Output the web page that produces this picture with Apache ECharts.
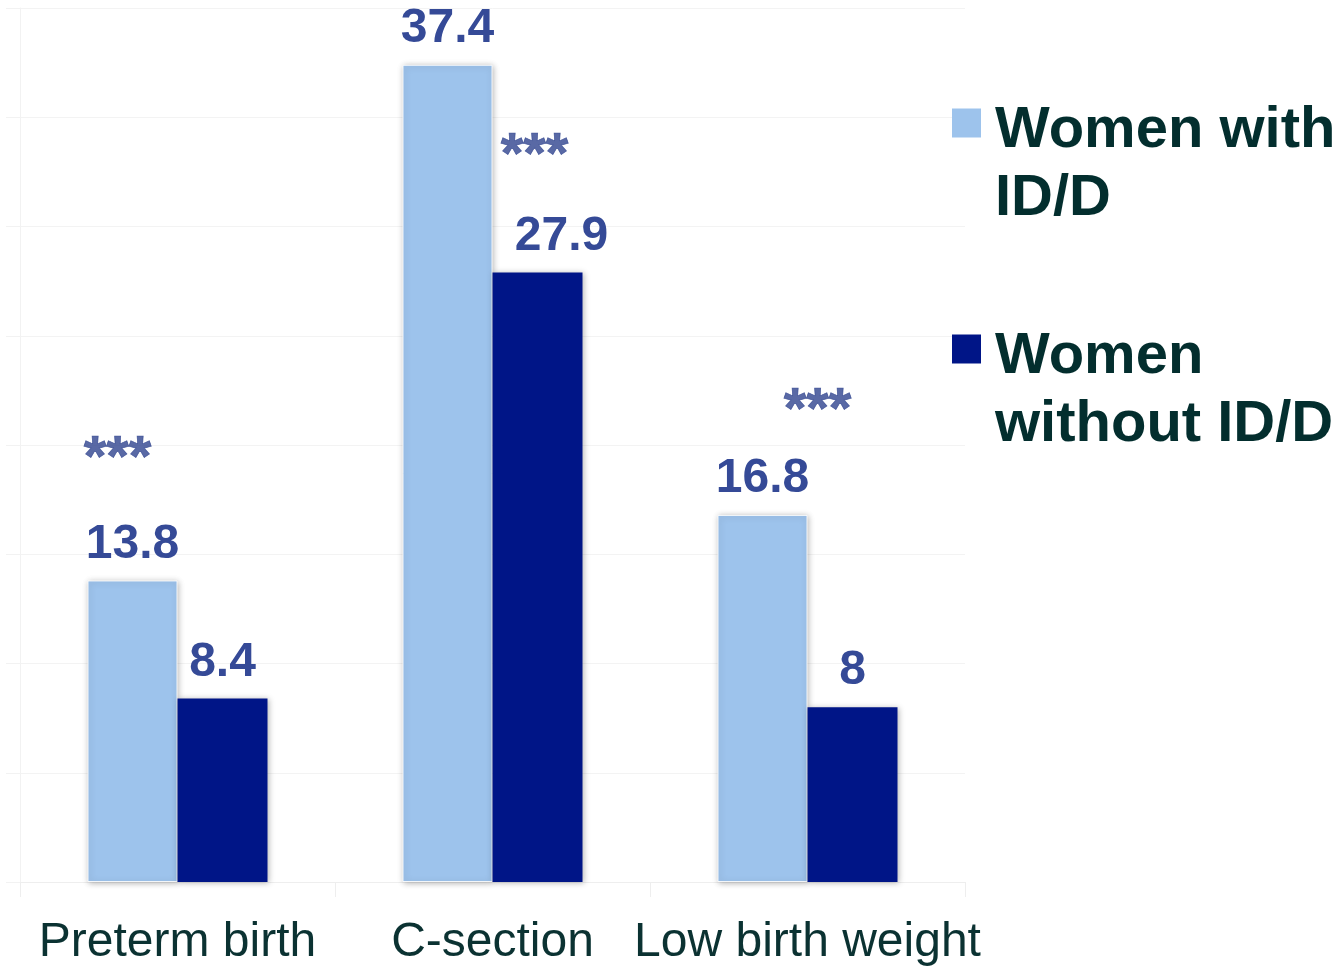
<!DOCTYPE html>
<html>
<head>
<meta charset="utf-8">
<script src="https://cdn.jsdelivr.net/npm/echarts@6/dist/echarts.min.js"></script>
<style>
html,body{margin:0;padding:0;background:#fff;}
#chart{width:1338px;height:969px;}
</style>
</head>
<body>
<div id="chart"></div>
<script>
const categories = ['Preterm birth', 'C-section', 'Low birth weight'];
const seriesNames = ['Women with ID/D', 'Women without ID/D'];
const legendLines = [['Women with', 'ID/D'], ['Women', 'without ID/D']];
const withIDD = [13.8, 37.4, 16.8];
const withoutIDD = [8.4, 27.9, 8];
const sigMarks = ['***', '***', '***'];
const sigLevels = [19.3, 33.2, 21.5];
const sigOffsets = [[-60, 0], [42, 0], [10, 0]];
const yTicks = {min: 0, max: 40, interval: 5};

const FONT = "'Liberation Sans', Arial, Helvetica, sans-serif";
const LABEL_COLOR = '#354a97';
const TEXT_COLOR = '#032e2e';

const chart = echarts.init(document.getElementById('chart'));

const barShadow = {
  shadowBlur: 6,
  shadowColor: 'rgba(0,0,0,0.28)',
  shadowOffsetX: 1,
  shadowOffsetY: 1
};

const option = {
  backgroundColor: '#ffffff',
  animation: false,
  grid: {left: 20, right: 373, top: 8, bottom: 87, containLabel: false},
  legend: {
    data: seriesNames,
    orient: 'vertical',
    left: 952,
    top: 50,
    padding: 0,
    itemWidth: 29,
    itemHeight: 29,
    itemGap: 48,
    icon: 'rect',
    selectedMode: false,
    itemStyle: {shadowBlur: 0, shadowColor: 'transparent', borderWidth: 0},
    formatter: function (name) {
      const lines = legendLines[seriesNames.indexOf(name)];
      return '{sp| }\n' + lines.map(function (l) { return '{t|' + l + '}'; }).join('\n');
    },
    textStyle: {
      fontFamily: FONT,
      fontSize: 58,
      fontWeight: 'bold',
      color: TEXT_COLOR,
      rich: {
        sp: {fontSize: 10, lineHeight: 84, fontFamily: FONT},
        t: {
          fontFamily: FONT,
          fontSize: 58,
          fontWeight: 'bold',
          lineHeight: 68,
          color: TEXT_COLOR,
          padding: [0, 0, 0, 9]
        }
      }
    }
  },
  xAxis: {
    type: 'category',
    data: categories,
    axisLine: {show: true, lineStyle: {color: '#eeeeee', width: 1}},
    axisTick: {show: true, length: 15, lineStyle: {color: '#eeeeee'}},
    axisLabel: {
      fontFamily: FONT,
      fontSize: 48,
      color: '#0b3232',
      margin: 37,
      interval: 0
    }
  },
  yAxis: {
    type: 'value',
    min: yTicks.min,
    max: yTicks.max,
    interval: yTicks.interval,
    axisLine: {show: true, lineStyle: {color: '#f2f2f2'}},
    axisTick: {show: true, length: 14, lineStyle: {color: '#f2f2f2'}},
    axisLabel: {show: false},
    splitLine: {show: true, lineStyle: {color: '#f3f3f3', width: 1}}
  },
  series: [
    {
      name: seriesNames[0],
      type: 'bar',
      data: withIDD,
      barWidth: 90,
      barGap: '0%',
      itemStyle: Object.assign({color: '#9dc3ec', borderColor: 'rgba(255,255,255,0.85)', borderWidth: 1}, barShadow),
      label: {
        show: true,
        position: 'top',
        distance: 12,
        fontFamily: FONT,
        fontSize: 48,
        fontWeight: 'bold',
        color: LABEL_COLOR
      }
    },
    {
      name: seriesNames[1],
      type: 'bar',
      data: withoutIDD.map(function (v, i) {
        return i === 1 ? {value: v, label: {offset: [24, 0]}} : v;
      }),
      barWidth: 90,
      barGap: '0%',
      itemStyle: Object.assign({color: '#001587'}, barShadow),
      label: {
        show: true,
        position: 'top',
        distance: 12,
        fontFamily: FONT,
        fontSize: 48,
        fontWeight: 'bold',
        color: LABEL_COLOR
      }
    },
    {
      name: 'significance',
      type: 'scatter',
      symbolSize: 0,
      silent: true,
      data: categories.map(function (c, i) {
        return {
          value: [c, sigLevels[i]],
          label: {offset: sigOffsets[i], formatter: sigMarks[i]}
        };
      }),
      label: {
        show: true,
        position: 'inside',
        fontFamily: FONT,
        fontSize: 58,
        fontWeight: 'bold',
        color: '#30438f',
        textBorderColor: '#30438f',
        textBorderWidth: 0.7
      }
    }
  ]
};

chart.setOption(option);
</script>
</body>
</html>
